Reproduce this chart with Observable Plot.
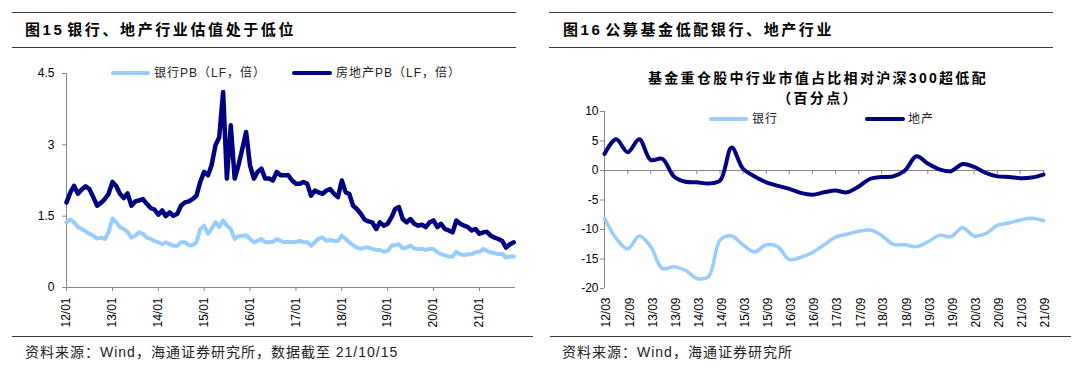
<!DOCTYPE html>
<html><head><meta charset="utf-8">
<script src="https://cdn.jsdelivr.net/npm/d3@7"></script>
<script src="https://cdn.jsdelivr.net/npm/@observablehq/plot@0.6"></script>
<style>
body{margin:0;background:#fff;}
#root{position:relative;width:1080px;height:371px;overflow:hidden;font-family:"Liberation Sans","Noto Sans CJK SC",sans-serif;color:#000;}
.hr{position:absolute;height:0;border-top:1.5px solid #3a3a3a;}
.head{position:absolute;font-weight:bold;font-size:15px;letter-spacing:2.6px;word-spacing:-4px;white-space:nowrap;line-height:20px;top:20px;}
.src{position:absolute;font-size:14px;letter-spacing:1px;white-space:nowrap;line-height:18px;top:343px;color:#222;}
.lg{position:absolute;font-size:12px;letter-spacing:1px;white-space:nowrap;line-height:16px;color:#222;}
.sw{position:absolute;height:4px;border-radius:2px;}
.chart{position:absolute;}
.ctitle{position:absolute;font-weight:bold;font-size:14px;letter-spacing:2.3px;white-space:nowrap;text-align:center;line-height:20px;}
</style>
</head><body>
<div id="root">
  <div class="hr" style="left:12px;width:504px;top:12px"></div>
  <div class="hr" style="left:12px;width:504px;top:47px"></div>
  <div class="hr" style="left:549px;width:504px;top:12px"></div>
  <div class="hr" style="left:549px;width:504px;top:47px"></div>
  <div class="hr" style="left:12px;width:521px;top:336px"></div>
  <div class="hr" style="left:550px;width:521px;top:336px"></div>
  <div class="head" style="left:25px">图15 银行、地产行业估值处于低位</div>
  <div class="head" style="left:563px">图16 公募基金低配银行、地产行业</div>
  <div class="src" style="left:25px">资料来源：Wind，海通证券研究所，数据截至 21/10/15</div>
  <div class="src" style="left:562px">资料来源：Wind，海通证券研究所</div>
  <div id="left" class="chart" style="left:0;top:60px"></div>
  <div id="right" class="chart" style="left:540px;top:100px"></div>
  <div class="ctitle" style="left:600px;width:436px;top:68px">基金重仓股中行业市值占比相对沪深300超低配</div>
  <div class="ctitle" style="left:600px;width:436px;top:88px">（百分点）</div>
  <div class="sw" style="left:111px;width:39px;top:71px;background:#99CCFF"></div>
  <div class="lg" style="left:154px;top:65px">银行PB（LF，倍）</div>
  <div class="sw" style="left:292px;width:40px;top:71px;background:#000080"></div>
  <div class="lg" style="left:336px;top:65px">房地产PB（LF，倍）</div>
  <div class="sw" style="left:709px;width:39px;top:117px;background:#99CCFF"></div>
  <div class="lg" style="left:752px;top:111px">银行</div>
  <div class="sw" style="left:865px;width:40px;top:117px;background:#000080"></div>
  <div class="lg" style="left:908px;top:111px">地产</div>
</div>
<script>
// ---------- Left chart: monthly PB, 2012-01 .. 2021-10 ----------
const pbStart = [2012, 0];
const pbEnd = new Date(Date.UTC(2021, 9, 15));
const bankPB = [
  1.37,1.43,1.37,1.27,1.23,1.18,1.13,1.09,1.03,1.05,1.02,1.16,
  1.45,1.37,1.27,1.23,1.17,1.05,1.09,1.16,1.13,1.05,1.02,0.98,
  0.95,0.91,0.95,0.91,0.88,0.88,0.95,0.95,0.89,0.89,0.95,1.23,
  1.30,1.13,1.23,1.37,1.27,1.41,1.30,1.23,1.02,1.08,1.09,1.10,
  1.02,0.95,0.98,1.02,0.95,0.95,0.96,1.02,0.98,0.95,0.96,0.95,
  0.96,0.98,0.95,0.95,0.88,0.95,1.03,1.05,0.98,1.00,0.98,0.98,
  1.09,1.02,0.95,0.89,0.84,0.81,0.84,0.84,0.81,0.79,0.79,0.75,
  0.77,0.88,0.89,0.91,0.82,0.84,0.88,0.82,0.81,0.81,0.79,0.81,
  0.81,0.74,0.70,0.68,0.65,0.65,0.75,0.70,0.68,0.70,0.70,0.74,
  0.75,0.81,0.77,0.74,0.72,0.70,0.71,0.63,0.65,0.65
];
const realEstatePB = [
  1.79,2.00,2.14,1.97,2.06,2.13,2.07,1.90,1.72,1.78,1.86,1.97,
  2.22,2.13,1.97,1.88,1.98,1.72,1.81,1.83,1.86,1.76,1.67,1.64,
  1.53,1.62,1.50,1.58,1.51,1.55,1.72,1.79,1.81,1.86,1.93,2.22,
  2.43,2.36,2.57,2.99,3.16,4.11,2.29,3.41,2.29,2.57,2.92,3.27,
  2.57,2.29,2.43,2.50,2.29,2.29,2.25,2.43,2.36,2.36,2.36,2.25,
  2.18,2.18,2.22,2.18,1.93,2.04,2.00,1.97,2.04,2.07,1.97,1.90,
  2.25,2.00,1.97,1.72,1.65,1.55,1.43,1.39,1.37,1.23,1.37,1.30,
  1.34,1.48,1.65,1.69,1.44,1.37,1.44,1.34,1.30,1.32,1.27,1.37,
  1.41,1.27,1.34,1.23,1.20,1.16,1.41,1.34,1.30,1.27,1.20,1.23,
  1.13,1.16,1.17,1.09,1.05,1.02,0.98,0.84,0.91,0.95
];
const pbYTicks = [0, 1.5, 3, 4.5];
const pbXTickLabels = ["12/01","13/01","14/01","15/01","16/01","17/01","18/01","19/01","20/01","21/01"];

// ---------- Right chart: quarterly, 2012/03 .. 2021/09 ----------
const qStart = [2012, 2];
const bankUnder = [-8.1,-11.5,-13.3,-11.1,-12.9,-16.6,-16.3,-16.9,-18.3,-18.0,-11.8,-11.1,-12.6,-13.8,-12.6,-12.9,-15.1,-14.7,-13.9,-12.6,-11.3,-10.8,-10.3,-10.1,-11.0,-12.5,-12.6,-12.9,-12.1,-11.0,-11.2,-9.7,-11.1,-10.7,-9.3,-8.9,-8.4,-8.1,-8.5];
const reUnder = [2.8,5.3,3.1,5.3,1.8,2.0,-1.0,-1.9,-2.0,-2.2,-1.7,3.9,0.3,-1.0,-2.0,-2.6,-3.1,-3.8,-4.1,-3.7,-3.4,-3.7,-2.7,-1.4,-1.1,-1.0,0.0,2.4,1.2,0.2,-0.1,1.1,0.6,-0.4,-1.0,-1.1,-1.3,-1.2,-0.7];
const qYTicks = [-20, -15, -10, -5, 0, 5, 10];
const qXTickLabels = ["12/03","12/09","13/03","13/09","14/03","14/09","15/03","15/09","16/03","16/09","17/03","17/09","18/03","18/09","19/03","19/09","20/03","20/09","21/03","21/09"];

const parseYM = s => new Date(Date.UTC(2000 + +s.slice(0,2), +s.slice(3,5) - 1, 1));
const fmtYM = d3.utcFormat("%y/%m");
const AX = "#868686";
const DARK = "#000080", LIGHT = "#99CCFF";
const font = {fontFamily: '"Liberation Sans","Noto Sans CJK SC",sans-serif', fontSize: "12px", background: "transparent", color: "#000"};

const monthly = vals => vals.map((v, i) => ({date: new Date(Date.UTC(pbStart[0], pbStart[1] + i, 1)), v}));
const quarterly = vals => vals.map((v, i) => ({date: new Date(Date.UTC(qStart[0], qStart[1] + 3 * i, 1)), v}));

const bankRows = monthly(bankPB), reRows = monthly(realEstatePB);
const pbTicks = pbXTickLabels.map(parseYM);
const pbX0 = new Date(Date.UTC(pbStart[0], pbStart[1], 1));

const left = Plot.plot({
  width: 540, height: 280,
  marginLeft: 66, marginRight: 25, marginTop: 13, marginBottom: 53,
  style: font,
  x: {type: "utc", domain: [pbX0, pbEnd]},
  y: {domain: [0, 4.5]},
  marks: [
    Plot.ruleY([0], {stroke: AX}),
    Plot.ruleX([pbX0], {stroke: AX}),
    Plot.axisY({ticks: pbYTicks, tickSize: 4, tickPadding: 8, tickFormat: d => String(d), stroke: AX, fill: "#000", label: null}),
    Plot.axisX({ticks: pbTicks, tickSize: 4, tickFormat: () => "", stroke: AX, label: null}),
    Plot.axisX({ticks: pbTicks, tickSize: 0, tickPadding: 10, tickRotate: -90, tickFormat: fmtYM, fill: "#000", label: null}),
    Plot.lineY(bankRows, {x: "date", y: "v", stroke: LIGHT, strokeWidth: 4, strokeLinejoin: "round"}),
    Plot.lineY(reRows, {x: "date", y: "v", stroke: DARK, strokeWidth: 4.5, strokeLinejoin: "round"})
  ]
});
document.getElementById("left").appendChild(left);

const bankQ = quarterly(bankUnder), reQ = quarterly(reUnder);
const qTicks = qXTickLabels.map(parseYM);
const qX0 = bankQ[0].date, qX1 = bankQ[bankQ.length - 1].date;

const right = Plot.plot({
  width: 540, height: 240,
  marginLeft: 64, marginRight: 37, marginTop: 11, marginBottom: 52,
  style: font,
  x: {type: "utc", domain: [qX0, qX1]},
  y: {domain: [-20, 10]},
  marks: [
    Plot.ruleY([0], {stroke: AX}),
    Plot.ruleX([qX0], {stroke: AX}),
    Plot.ruleX(qTicks, {x: d => d, y1: () => 0, y2: () => 0, insetBottom: -4, stroke: AX}),
    Plot.axisY({ticks: qYTicks, tickSize: 4, tickPadding: 2, tickFormat: d => String(d), stroke: AX, fill: "#000", label: null}),
    Plot.axisX({ticks: qTicks, tickSize: 0, tickPadding: 9, tickRotate: -90, tickFormat: fmtYM, fill: "#000", label: null, dx: 2}),
    Plot.lineY(bankQ, {x: "date", y: "v", stroke: LIGHT, strokeWidth: 3.5, curve: "catmull-rom"}),
    Plot.lineY(reQ, {x: "date", y: "v", stroke: DARK, strokeWidth: 4, curve: "catmull-rom"})
  ]
});
document.getElementById("right").appendChild(right);
</script>
</body></html>
